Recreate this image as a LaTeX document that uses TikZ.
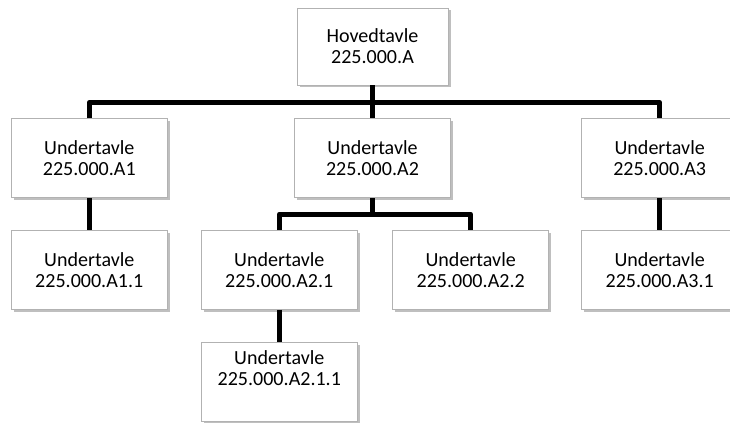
\documentclass[tikz,border=0pt]{standalone}
\usepackage{fontspec}
\setmainfont{Carlito}
\usetikzlibrary{positioning,shadows}
\tikzset{tavle/.style={
    draw=gray!60,
    fill=white,
    minimum width=3.12cm,
    minimum height=1.58cm,
    align=center,
    font=\fontsize{11.4}{11.95}\selectfont,
    drop shadow={shadow xshift=0.05cm, shadow yshift=-0.05cm, fill=black, opacity=0.25},
}}
\tikzset{wire/.style={
    line width=0.1cm,
    line join=round,
}}
\begin{document}
\begin{tikzpicture}
    \useasboundingbox (0,0) rectangle (14.6,-8.46);

    \node[tavle, minimum width=3.02cm, minimum height=1.54cm] (hoved) at (7.45,-0.93) {Hovedtavle\\225.000.A};

    \node[tavle, below=0.66cm of hoved] (a2) {Undertavle\\225.000.A2};
    \node[tavle, left=2.53cm of a2] (a1) {Undertavle\\225.000.A1};
    \node[tavle, right=2.61cm of a2] (a3) {Undertavle\\225.000.A3};

    \node[tavle, below=0.64cm of a1] (a11) {Undertavle\\225.000.A1.1};
    \node[tavle, below left=0.64cm and -1.27cm of a2] (a21) {Undertavle\\225.000.A2.1};
    \node[tavle, below right=0.64cm and -1.17cm of a2] (a22) {Undertavle\\225.000.A2.2};
    \node[tavle, below=0.64cm of a3] (a31) {Undertavle\\225.000.A3.1};

    % tekst sitter oppe i boksen
    \node[tavle, below=0.65cm of a21, inner ysep=0.14cm, text depth=0.56cm] (a211) {Undertavle\\225.000.A2.1.1};

    \draw[wire] (hoved.south) -- ++(0,-0.34) coordinate (hovedbus);
    \draw[wire] (hovedbus) -- (a2.north);
    \draw[wire] (a1.north) |- (hovedbus) -| (a3.north);

    \draw[wire] (a2.south) -- ++(0,-0.32) coordinate (a2bus);
    \draw[wire] (a21.north) |- (a2bus) -| (a22.north);

    \draw[wire] (a1) -- (a11);
    \draw[wire] (a3) -- (a31);
    \draw[wire] (a21) -- (a211);
\end{tikzpicture}
\end{document}
